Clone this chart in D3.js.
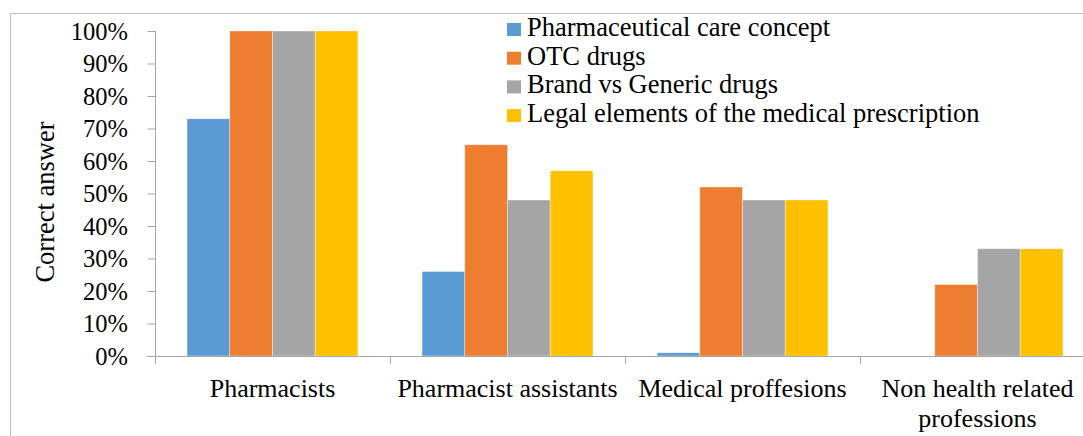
<!DOCTYPE html>
<html>
<head>
<meta charset="utf-8">
<script src="https://cdn.jsdelivr.net/npm/d3@7"></script>
<style>
  html, body { margin: 0; padding: 0; background: #fff; }
</style>
</head>
<body>
<svg id="chart" width="1083" height="436" font-family="Liberation Serif"></svg>
<script>
const categories = ["Pharmacists", "Pharmacist assistants", "Medical proffesions", "Non health related professions"];
const categoryLines = [["Pharmacists"], ["Pharmacist assistants"], ["Medical proffesions"], ["Non health related", "professions"]];
const seriesNames = ["Pharmaceutical care concept", "OTC drugs", "Brand vs Generic drugs", "Legal elements of the medical prescription"];
const seriesColors = ["#5b9bd5", "#ed7d31", "#a5a5a5", "#ffc000"];
const pharmCare = [73, 26, 1, 0];
const otcDrugs = [100, 65, 52, 22];
const brandGeneric = [100, 48, 48, 33];
const legalElements = [100, 57, 48, 33];
const yTicks = [0, 10, 20, 30, 40, 50, 60, 70, 80, 90, 100];
const yTitle = "Correct answer";

const seriesValues = [pharmCare, otcDrugs, brandGeneric, legalElements];
const FONT = "Liberation Serif";

const svg = d3.select("#chart");
const plot = { left: 155, right: 1095, top: 31, bottom: 356 };

// outer border (top and left visible)
svg.append("path")
  .attr("d", "M10.5,436 L10.5,13.5 L1083,13.5")
  .attr("fill", "none").attr("stroke", "#bfbfbf").attr("stroke-width", 1);

const x0 = d3.scaleBand().domain(categories).range([plot.left, plot.right]).paddingInner(0).paddingOuter(0);
const x1 = d3.scaleBand().domain(seriesNames).range([0, x0.bandwidth()]).paddingInner(0).paddingOuter(0.75);
const y = d3.scaleLinear().domain([0, 100]).range([plot.bottom, plot.top]);

// bars
const groups = svg.append("g").selectAll("g").data(categories).join("g")
  .attr("transform", d => `translate(${x0(d)},0)`);
groups.selectAll("rect")
  .data((c, ci) => seriesNames.map((s, si) => ({ s, si, v: seriesValues[si][ci] })))
  .join("rect")
  .attr("x", d => x1(d.s))
  .attr("width", x1.bandwidth())
  .attr("y", d => y(d.v))
  .attr("height", d => y(0) - y(d.v))
  .attr("fill", d => seriesColors[d.si])
  .attr("stroke", d => d.v > 0 ? "rgba(255,255,255,0.45)" : "none")
  .attr("stroke-width", 0.8);

// y axis
const yAxis = d3.axisLeft(y).tickValues(yTicks).tickFormat(d => d + "%").tickSizeOuter(0).tickSize(8).tickPadding(19);
const yg = svg.append("g").attr("transform", `translate(${plot.left},0)`).call(yAxis);
yg.attr("font-family", FONT).attr("font-size", 24.5);
yg.select(".domain").attr("stroke", "#a6a6a6").attr("d", `M0.5,${plot.top} V${plot.bottom + 8}`);
yg.selectAll(".tick line").attr("stroke", "#a6a6a6").attr("transform", "translate(0.5,0)");
yg.selectAll(".tick text").attr("font-family", FONT).attr("font-size", 24.5).attr("fill", "#000").attr("dy", "0.34em");

// x axis
const xAxis = d3.axisBottom(x0).tickSize(0).tickFormat("");
const xg = svg.append("g").attr("transform", `translate(0,${plot.bottom})`).call(xAxis);
xg.attr("font-family", FONT).attr("font-size", 26);
xg.select(".domain").attr("stroke", "#a6a6a6").attr("d", `M${plot.left - 8},0.5 H${plot.right}`);
// category separator ticks
const sepPos = categories.slice(1).map(c => x0(c));
xg.selectAll(".sep").data(sepPos).join("line").attr("class", "sep")
  .attr("x1", d => d + 0.5).attr("x2", d => d + 0.5).attr("y1", 0).attr("y2", 8)
  .attr("stroke", "#a6a6a6");
// category labels
xg.selectAll(".tick").each(function(d, i) {
  const t = d3.select(this).append("text")
    .attr("text-anchor", "middle")
    .attr("font-family", FONT)
    .attr("font-size", 26)
    .attr("fill", "#000")
    .attr("y", 41);
  categoryLines[i].forEach((line, li) => {
    t.append("tspan").attr("x", 0).attr("dy", li === 0 ? 0 : 30).text(line);
  });
});

// y title
svg.append("text")
  .attr("transform", "translate(54,202) rotate(-90)")
  .attr("text-anchor", "middle")
  .attr("font-family", FONT)
  .attr("font-size", 26.5)
  .attr("fill", "#000")
  .text(yTitle);

// legend
const legend = svg.append("g").attr("transform", "translate(507,0)");
const lg = legend.selectAll("g").data(seriesNames).join("g")
  .attr("transform", (d, i) => `translate(0,${36 + i * 28.7})`);
lg.append("rect").attr("x", 0).attr("y", -13).attr("width", 14).attr("height", 13)
  .attr("fill", (d, i) => seriesColors[i]);
lg.append("text").attr("x", 20).attr("y", 0)
  .attr("font-family", FONT)
  .attr("font-size", 26.5).attr("fill", "#000")
  .text(d => d);
</script>
</body>
</html>
